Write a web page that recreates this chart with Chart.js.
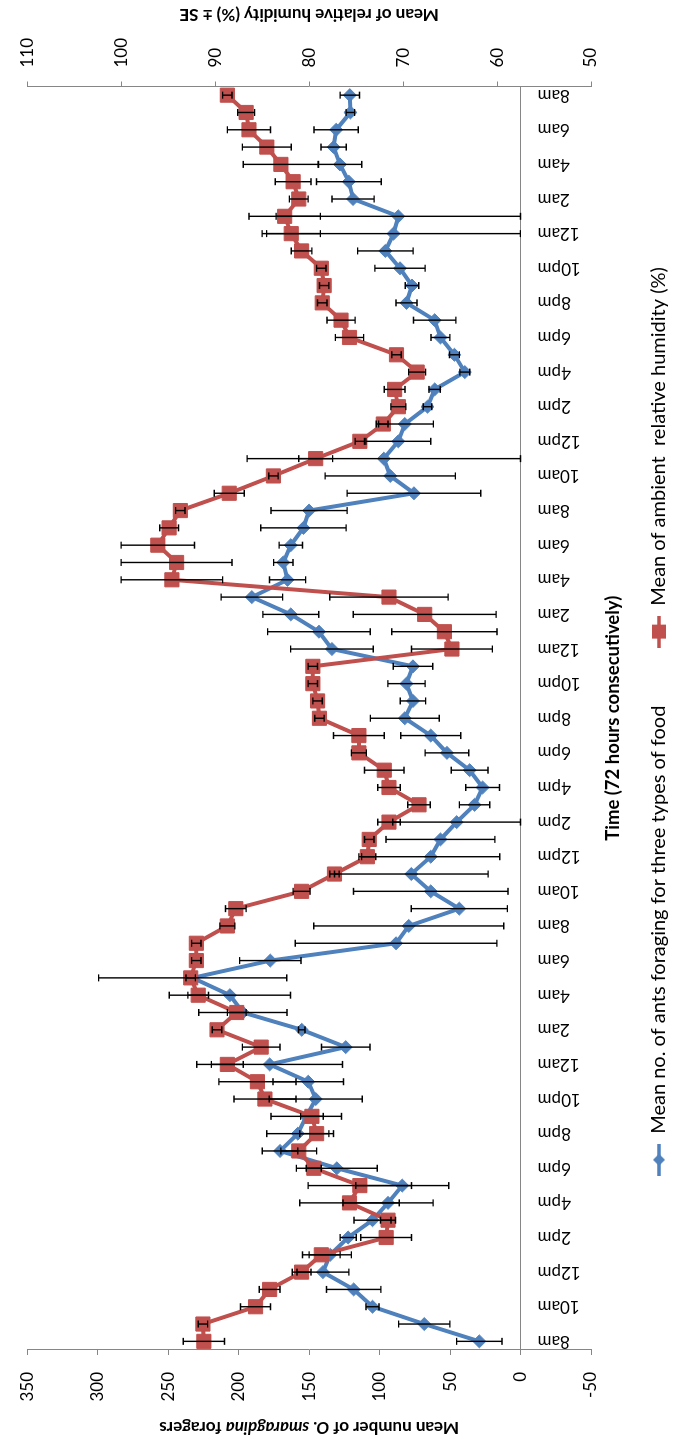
<!DOCTYPE html>
<html>
<head>
<meta charset="utf-8">
<style>
  html, body { margin: 0; padding: 0; background: #fff; overflow: hidden; }
  /* chart is drawn landscape, then turned a quarter turn to the left */
  #wrap {
    position: absolute; left: 0; top: 0;
    width: 1443px; height: 679px;
    transform-origin: 0 0;
    transform: translate(0, 1443px) rotate(-90deg);
  }
</style>
<script src="https://cdn.jsdelivr.net/npm/chart.js@4.4.1/dist/chart.umd.min.js"></script>
</head>
<body>
<div id="wrap"><canvas id="chart" width="1443" height="679"></canvas></div>
<script>
var hours = [
  "8am","9am","10am","11am","12pm","1pm","2pm","3pm","4pm","5pm","6pm","7pm",
  "8pm","9pm","10pm","11pm","12am","1am","2am","3am","4am","5am","6am","7am",
  "8am","9am","10am","11am","12pm","1pm","2pm","3pm","4pm","5pm","6pm","7pm",
  "8pm","9pm","10pm","11pm","12am","1am","2am","3am","4am","5am","6am","7am",
  "8am","9am","10am","11am","12pm","1pm","2pm","3pm","4pm","5pm","6pm","7pm",
  "8pm","9pm","10pm","11pm","12am","1am","2am","3am","4am","5am","6am","7am",
  "8am"
];

var antsMean = [29.2, 68.3, 105, 118.4, 140.2, 135, 122.3, 105, 94, 83.9,
  130.3, 170.6, 158, 152, 145.3, 150.6, 178, 124, 155.2, 197,
  206.2, 232.6, 177.5, 88.3, 79.3, 43.4, 63.7, 77.5, 63.7, 56.8,
  45.3, 32.6, 26.9, 36.1, 52.2, 63.7, 82.1, 76.3, 80.9, 76.3,
  133.8, 143, 163, 190.6, 165.3, 168.3, 163, 154, 150, 75.6,
  92.4, 97, 86.7, 82.1, 66, 60.9, 39.5, 46.9, 56.8, 60.9,
  80.9, 77, 85.5, 95.9, 90.1, 86.7, 118.8, 121.8, 128.1, 132.6,
  130.8, 120.7, 121.1];
var antsSE = [16.1, 18.2, 4.6, 19.3, 18.4, 15, 5.7, 13.1, 32, 33,
  28.7, 12.6, 22, 25, 33, 25, 51.7, 17.2, 2.3, 31.3,
  43, 66.7, 21.8, 71.5, 67.4, 34.1, 54.8, 54.5, 49, 38.6,
  45.3, 10.8, 12, 13, 15.5, 21.3, 24.4, 9, 13.2, 14,
  29.3, 36.4, 19.8, 21.8, 12.8, 6.9, 8.3, 30.3, 27, 47.4,
  46.2, 97, 23, 20.3, 3, 4, 3.5, 3.5, 6.7, 15,
  7.5, 4.8, 17.8, 19.7, 90, 86.7, 14.9, 23, 15.5, 9,
  15.7, 3, 6.9];

var humidity = [91.2, 91.3, 85.7, 84.2, 80.8, 78.7, 71.8, 71.6, 75.7, 74.6,
  79.5, 81.1, 79.2, 79.7, 84.7, 85.5, 88.7, 85.1, 89.8, 87.7,
  91.8, 92.6, 92.0, 92.0, 88.7, 87.8, 80.8, 77.3, 73.8, 73.6,
  71.5, 68.3, 71.5, 72.0, 74.7, 74.7, 78.9, 79.1, 79.6, 79.6,
  64.8, 65.6, 67.7, 71.5, 94.6, 94.1, 96.1, 94.9, 93.7, 88.5,
  83.8, 79.3, 74.6, 72.1, 70.5, 70.9, 68.5, 70.7, 75.7, 76.6,
  78.6, 78.4, 78.7, 80.8, 81.9, 82.6, 81.1, 81.7, 83.0, 84.5,
  86.4, 86.7, 88.7];
var humiditySE = [2.2, 0.5, 1.6, 1.1, 1.0, 2.0, 2.7, 0.8, 5.3, 5.5,
  0.8, 1.9, 1.8, 1.2, 3.3, 4.1, 1.7, 2.0, 0.5, 1.0,
  1.1, 0.5, 0.5, 0.5, 0.8, 1.1, 0.9, 0.5, 0.9, 0.5,
  1.2, 1.2, 1.2, 2.1, 0.8, 2.7, 0.5, 0.5, 0.5, 0.5,
  4.3, 5.6, 7.6, 6.3, 5.4, 5.9, 3.9, 1.0, 0.5, 1.6,
  0.5, 1.8, 0.5, 0.5, 0.8, 1.1, 0.9, 0.5, 1.5, 1.5,
  0.5, 0.5, 0.5, 1.1, 3.1, 3.8, 1.0, 1.9, 4.0, 2.6,
  2.3, 0.9, 0.5];

var antsLabel = "Mean no. of ants foraging for three types of food";
var humidityLabel = "Mean of ambient  relative humidity (%)";
var timeTitle = "Time (72 hours consecutively)";
// left title, with the species name in italics
var antsTitle = [["Mean number of ", false], ["O. smaragdina", true], [" foragers", false]];
var humidityTitle = "Mean of relative humidity (%) \u00b1 SE";

var blue = "#4f81bd";
var red = "#c0504d";
var axisGrey = "#868686";
var fam = "Lato, 'Open Sans', sans-serif";

Chart.defaults.font.family = fam;
Chart.defaults.font.size = 17;
Chart.defaults.color = "#000";

// legend symbols: short line with the marker in the middle (Excel style)
function legendIcon(color, shape) {
  var c = document.createElement("canvas");
  c.width = 32; c.height = 16;
  var g = c.getContext("2d");
  g.strokeStyle = color; g.fillStyle = color; g.lineWidth = 3.5;
  g.beginPath(); g.moveTo(0, 8); g.lineTo(32, 8); g.stroke();
  g.beginPath();
  if (shape === "diamond") {
    g.moveTo(16, 2); g.lineTo(22, 8); g.lineTo(16, 14); g.lineTo(10, 8);
  } else {
    g.rect(9, 1, 14, 14);
  }
  g.closePath(); g.fill();
  return c;
}
var icons = [legendIcon(blue, "diamond"), legendIcon(red, "square")];

var errorBars = {
  id: "errorBars",
  afterDatasetsDraw: function (chart) {
    var ctx = chart.ctx;
    ctx.save();
    ctx.strokeStyle = "#000";
    ctx.lineWidth = 1.4;
    chart.data.datasets.forEach(function (ds, di) {
      var meta = chart.getDatasetMeta(di);
      var sc = chart.scales[ds.yAxisID];
      meta.data.forEach(function (pt, i) {
        var hi = sc.getPixelForValue(ds.data[i] + ds.errors[i]);
        var lo = sc.getPixelForValue(ds.data[i] - ds.errors[i]);
        ctx.beginPath();
        ctx.moveTo(pt.x, hi); ctx.lineTo(pt.x, lo);
        ctx.moveTo(pt.x - 3.5, hi); ctx.lineTo(pt.x + 3.5, hi);
        ctx.moveTo(pt.x - 3.5, lo); ctx.lineTo(pt.x + 3.5, lo);
        ctx.stroke();
      });
    });
    ctx.restore();
  }
};

// both value-axis titles read bottom-to-top, the left one has italics
var axisTitles = {
  id: "axisTitles",
  afterDraw: function (chart) {
    var a = chart.chartArea, ctx = chart.ctx;
    var midY = (a.top + a.bottom) / 2;
    var bold = "bold 17px " + fam, boldIt = "italic bold 17px " + fam;
    ctx.save();
    ctx.fillStyle = "#000";
    ctx.textBaseline = "middle";

    ctx.save();
    ctx.translate(chart.scales.y1.right - 14, midY);
    ctx.rotate(-Math.PI / 2);
    ctx.font = bold;
    ctx.textAlign = "center";
    ctx.fillText(humidityTitle, 0, 0);
    ctx.restore();

    ctx.save();
    ctx.translate(chart.scales.y.left + 16, midY);
    ctx.rotate(-Math.PI / 2);
    ctx.textAlign = "left";
    var total = 0;
    antsTitle.forEach(function (p) {
      ctx.font = p[1] ? boldIt : bold;
      total += ctx.measureText(p[0]).width;
    });
    var x = -total / 2;
    antsTitle.forEach(function (p) {
      ctx.font = p[1] ? boldIt : bold;
      ctx.fillText(p[0], x, 0);
      x += ctx.measureText(p[0]).width;
    });
    ctx.restore();

    ctx.restore();
  }
};

var config = {
  type: "line",
  data: {
    labels: hours,
    datasets: [{
      label: antsLabel,
      data: antsMean,
      errors: antsSE,
      yAxisID: "y",
      borderColor: blue,
      backgroundColor: blue,
      borderWidth: 4,
      pointStyle: "rectRot",
      pointRadius: 6.5,
      pointBorderWidth: 1,
      order: 1
    }, {
      label: humidityLabel,
      data: humidity,
      errors: humiditySE,
      yAxisID: "y1",
      borderColor: red,
      backgroundColor: red,
      borderWidth: 4,
      pointStyle: "rect",
      pointRadius: 10,
      pointBorderWidth: 1,
      order: 0
    }]
  },
  options: {
    responsive: false,
    animation: false,
    layout: { padding: { top: 11.5, left: 0, right: 0, bottom: 0 } },
    scales: {
      x: {
        type: "category",
        position: { y: 0 },
        offset: true,
        grid: { display: false, drawTicks: false },
        border: { display: true, color: axisGrey, width: 1 },
        ticks: {
          autoSkip: false,
          minRotation: 90,
          maxRotation: 90,
          padding: 17,
          callback: function (value, index) {
            return index % 2 === 0 ? this.getLabelForValue(value) : "";
          }
        },
        title: {
          display: true,
          text: timeTitle,
          font: { weight: "bold", size: 18.5 },
          padding: { top: 4, bottom: 0 }
        }
      },
      y: {
        position: "left",
        min: -50,
        max: 350,
        ticks: { stepSize: 50, padding: 17 },
        grid: { drawOnChartArea: false, drawTicks: true, tickLength: 5, color: axisGrey },
        border: { color: axisGrey },
        afterFit: function (scale) { scale.width = 93; }
      },
      y1: {
        position: "right",
        min: 50,
        max: 110,
        ticks: { stepSize: 10, padding: 14 },
        grid: { drawOnChartArea: false, drawTicks: true, tickLength: 5, color: axisGrey },
        border: { color: axisGrey },
        afterFit: function (scale) { scale.width = 86.5; }
      }
    },
    plugins: {
      legend: {
        position: "bottom",
        labels: {
          usePointStyle: true,
          pointStyleWidth: 32,
          padding: 58,
          color: "#000",
          font: { size: 20 },
          sort: function (a, b) { return a.datasetIndex - b.datasetIndex; },
          generateLabels: function (chart) {
            var items = Chart.defaults.plugins.legend.labels.generateLabels(chart);
            items.forEach(function (it) { it.pointStyle = icons[it.datasetIndex]; });
            return items;
          }
        }
      },
      tooltip: { enabled: false }
    }
  },
  plugins: [errorBars, axisTitles]
};

var chart = new Chart(document.getElementById("chart"), config);
</script>
</body>
</html>
